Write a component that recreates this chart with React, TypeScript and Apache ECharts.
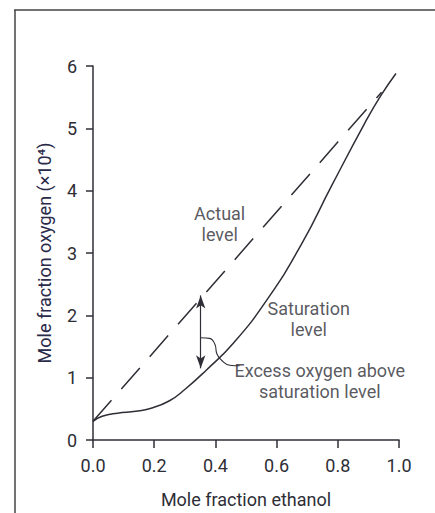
import React, { useEffect, useRef } from "react";
import * as echarts from "echarts";

const xTicks = [0, 0.2, 0.4, 0.6, 0.8, 1.0];
const yTicks = [0, 1, 2, 3, 4, 5, 6];

const satX = [0, 0.03, 0.08, 0.14, 0.19, 0.25, 0.30, 0.37, 0.46, 0.57, 0.68, 0.78, 0.89, 0.94, 0.99];
const satY = [0.30, 0.38, 0.43, 0.46, 0.51, 0.63, 0.81, 1.12, 1.56, 2.26, 3.13, 4.08, 5.10, 5.52, 5.88];

const actX = [0, 0.943];
const actY = [0.30, 5.58];

const arrowX = 0.352;
const arrowY = [2.32, 1.15];

const leadX = [0.352, 0.381, 0.398, 0.405, 0.42, 0.447, 0.479];
const leadY = [1.64, 1.63, 1.54, 1.38, 1.28, 1.2, 1.19];

const labels = [
  { text: "Actual\nlevel", x: 0.414, y: 3.46 },
  { text: "Saturation\nlevel", x: 0.705, y: 1.94 },
  { text: "Excess oxygen above\nsaturation level", x: 0.741, y: 0.945 },
];

const FONT = "Roboto, 'Liberation Sans', sans-serif";
const INK = "#2e2e36";

export default function App() {
  const ref = useRef<HTMLDivElement>(null);
  useEffect(() => {
    if (!ref.current) return;
    const chart = echarts.init(ref.current, undefined, { renderer: "svg" });
    const zip = (xs: number[], ys: number[]) => xs.map((x, i) => [x, ys[i]]);
    chart.setOption({
      animation: false,
      backgroundColor: "#ffffff",
      grid: { left: 93, right: 36, top: 66, bottom: 71 },
      xAxis: {
        type: "value",
        min: xTicks[0],
        max: xTicks[xTicks.length - 1],
        interval: 0.2,
        name: "Mole fraction ethanol",
        nameLocation: "middle",
        nameGap: 50,
        nameTextStyle: { fontFamily: FONT, fontSize: 18, color: INK },
        axisLine: { lineStyle: { color: INK, width: 1.5 } },
        axisTick: { length: 8, lineStyle: { color: INK, width: 1.5 } },
        axisLabel: {
          margin: 16,
          fontFamily: FONT,
          fontSize: 18,
          color: INK,
          formatter: (v: number) => v.toFixed(1),
        },
        splitLine: { show: false },
      },
      yAxis: {
        type: "value",
        min: yTicks[0],
        max: yTicks[yTicks.length - 1],
        interval: 1,
        name: "Mole fraction oxygen (×10⁴)",
        nameLocation: "middle",
        nameGap: 40,
        nameTextStyle: { fontFamily: FONT, fontSize: 18, color: "#2a2a4a" },
        axisLine: { show: true, lineStyle: { color: INK, width: 1.5 } },
        axisTick: { show: true, length: 7, lineStyle: { color: INK, width: 1.5 } },
        axisLabel: { margin: 16, fontFamily: FONT, fontSize: 18, color: INK },
        splitLine: { show: false },
      },
      graphic: [
        { type: "line", shape: { x1: 15, y1: 10, x2: 15, y2: 513 }, style: { stroke: "#444", lineWidth: 1.5 } },
        { type: "line", shape: { x1: 14, y1: 10, x2: 435, y2: 10 }, style: { stroke: "#444", lineWidth: 1.5 } },
      ],
      series: [
        {
          type: "line",
          data: zip(satX, satY),
          smooth: 0.5,
          symbol: "none",
          lineStyle: { color: INK, width: 1.5 },
          markLine: {
            silent: true,
            symbol: ["arrow", "arrow"],
            symbolSize: [7, 13],
            label: { show: false },
            lineStyle: { color: INK, width: 1.2, type: "solid" },
            data: [[{ coord: [arrowX, arrowY[0]] }, { coord: [arrowX, arrowY[1]] }]],
          },
        },
        {
          type: "line",
          data: zip(actX, actY),
          symbol: "none",
          lineStyle: { color: INK, width: 1.5, type: [28, 15] },
        },
        {
          type: "line",
          data: zip(leadX, leadY),
          smooth: 0.5,
          symbol: "none",
          lineStyle: { color: INK, width: 1.1 },
        },
        {
          type: "scatter",
          symbolSize: 0,
          data: labels.map((l) => ({ value: [l.x, l.y], name: l.text })),
          label: {
            show: true,
            position: "inside",
            formatter: (p: any) => p.name,
            fontFamily: FONT,
            fontSize: 18,
            lineHeight: 21,
            color: INK,
            align: "center",
          },
        },
      ],
    });
    return () => chart.dispose();
  }, []);
  return (
    <div
      ref={ref}
      style={{ position: "absolute", left: 0, top: 0, width: 435, height: 513 }}
    />
  );
}
